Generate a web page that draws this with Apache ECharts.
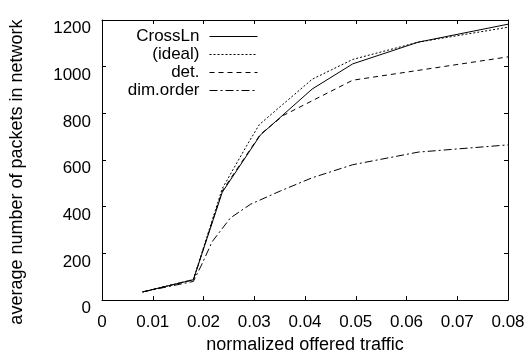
<!DOCTYPE html>
<html>
<head>
<meta charset="utf-8">
<script src="https://cdn.jsdelivr.net/npm/echarts@6/dist/echarts.min.js"></script>
<style>
html,body{margin:0;padding:0;background:#fff;}
#chart{width:529px;height:359px;}
</style>
</head>
<body>
<div id="chart"></div>
<script>
var seriesNames = ['CrossLn', '(ideal)', 'det.', 'dim.order'];

var crossX = [0.008, 0.018, 0.0237, 0.0312, 0.0414, 0.0494, 0.0623, 0.08];
var crossY = [35, 87, 462, 707, 904, 1012, 1105, 1182];

var idealX = [0.008, 0.018, 0.0237, 0.0286, 0.031, 0.0414, 0.0494, 0.0623, 0.08];
var idealY = [35, 88, 478, 665, 752, 946, 1031, 1105, 1169];

var detX = [0.008, 0.018, 0.0237, 0.0312, 0.0358, 0.0494, 0.08];
var detY = [35, 87, 468, 710, 792, 942, 1042];

var dimX = [0.008, 0.018, 0.0196, 0.0217, 0.0253, 0.0293, 0.0352, 0.0414, 0.0494, 0.0623, 0.08];
var dimY = [35, 80, 150, 250, 352, 411, 468, 524, 580, 634, 665];

var xTickLabels = ['0', '0.01', '0.02', '0.03', '0.04', '0.05', '0.06', '0.07', '0.08'];
var yTickLabels = ['0', '200', '400', '600', '800', '1000', '1200'];

function zip(xs, ys) { return xs.map(function (x, i) { return [x, ys[i]]; }); }

var FONT = '"Liberation Sans", Arial, Helvetica, sans-serif';
var chart = echarts.init(document.getElementById('chart'), null, {renderer: 'canvas'});

var lineTypes = ['solid', [2, 2], [5, 4], [8, 3, 2, 3]];
var datasets = [zip(crossX, crossY), zip(idealX, idealY), zip(detX, detY), zip(dimX, dimY)];

var series = seriesNames.map(function (n, i) {
  return {
    name: n,
    type: 'line',
    data: datasets[i],
    showSymbol: false,
    symbol: 'none',
    lineStyle: {color: '#000', width: 1, type: lineTypes[i]},
    itemStyle: {color: '#000'},
    animation: false
  };
});

var legends = seriesNames.map(function (n, i) {
  return {
    data: [n],
    orient: 'vertical',
    align: 'right',
    right: 271,
    top: 28 + i * 18,
    itemWidth: 48,
    itemHeight: 12,
    padding: 0,
    itemStyle: {opacity: 0},
    lineStyle: {width: 1},
    textStyle: {fontFamily: FONT, fontSize: 17, color: '#000', padding: [0, 5, 0, 0]},
    selectedMode: false
  };
});

function axisCommon() {
  return {
    axisLine: {show: true, onZero: false, lineStyle: {color: '#000', width: 1}},
    axisTick: {show: true, inside: true, length: 4, lineStyle: {color: '#000'}},
    splitLine: {show: false}
  };
}

var xMain = Object.assign(axisCommon(), {
  type: 'value', min: 0, max: 0.08, interval: 0.01, position: 'bottom',
  name: 'normalized offered traffic', nameLocation: 'middle', nameGap: 33,
  nameTextStyle: {fontFamily: FONT, fontSize: 18, color: '#000'},
  axisLabel: {fontFamily: FONT, fontSize: 17, color: '#000', margin: 14,
    formatter: function (v) { return xTickLabels[Math.round(v * 100)]; }}
});
var xTop = Object.assign(axisCommon(), {
  type: 'value', min: 0, max: 0.08, interval: 0.01, position: 'top',
  axisLabel: {show: false}
});
var yMain = Object.assign(axisCommon(), {
  type: 'value', min: 0, max: 1200, interval: 200, position: 'left',
  name: 'average number of packets in network', nameLocation: 'middle', nameGap: 76,
  nameTextStyle: {fontFamily: FONT, fontSize: 18, color: '#000', padding: [0, 24, 0, 0]},
  axisLabel: {fontFamily: FONT, fontSize: 17, color: '#000', margin: 11, padding: [0, 0, 0, 0],
    verticalAlign: 'top', lineHeight: 17,
    formatter: function (v) { return yTickLabels[Math.round(v / 200)]; }}
});
var yRight = Object.assign(axisCommon(), {
  type: 'value', min: 0, max: 1200, interval: 200, position: 'right',
  axisLabel: {show: false}
});

chart.setOption({
  animation: false,
  backgroundColor: '#fff',
  grid: {left: 101, right: 21, top: 20, bottom: 55, containLabel: false},
  legend: legends,
  xAxis: [xMain, xTop],
  yAxis: [yMain, yRight],
  series: series
});
</script>
</body>
</html>
